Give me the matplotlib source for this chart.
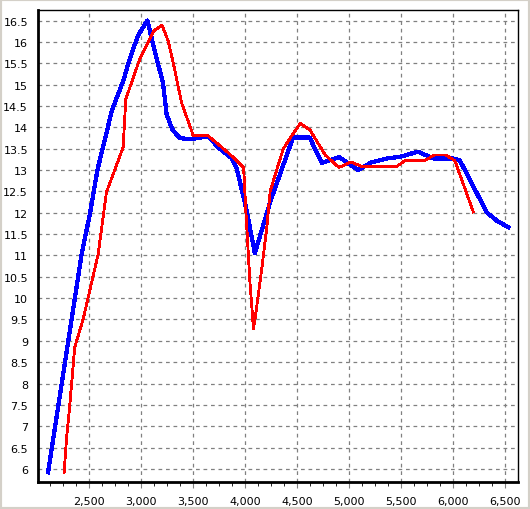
import numpy as np
import matplotlib
matplotlib.use('Agg')
import matplotlib.pyplot as plt
from matplotlib.ticker import MultipleLocator, FuncFormatter
from matplotlib.patches import Rectangle

# blue series (thick line)
blue_x = [2106, 2430, 2510, 2580, 2660, 2720, 2830, 2890, 2970, 3060,
          3150, 3210, 3245, 3300, 3370, 3470, 3640, 3760, 3870, 3920,
          4010, 4093, 4240, 4460, 4620, 4735, 4905, 5085, 5215, 5360,
          5490, 5660, 5810, 6000, 6064, 6190, 6320, 6420, 6530]
blue_y = [5.92, 11.05, 12.0, 13.0, 13.8, 14.4, 15.1, 15.6, 16.15, 16.5,
          15.6, 15.05, 14.3, 13.95, 13.75, 13.72, 13.79, 13.49, 13.28, 13.02,
          12.1, 11.05, 12.25, 13.76, 13.76, 13.17, 13.30, 13.0, 13.18, 13.27,
          13.31, 13.43, 13.27, 13.27, 13.22, 12.63, 12.01, 11.81, 11.66]

# red series (thin line)
red_x = [2260, 2283, 2314, 2362, 2442, 2490, 2587, 2667, 2827, 2853,
         2987, 3122, 3202, 3260, 3308, 3388, 3485, 3500, 3644, 3757,
         3853, 3985, 4005, 4045, 4080, 4100, 4160, 4210, 4240, 4290,
         4365, 4446, 4530, 4622, 4770, 4900, 5020, 5120, 5455, 5535,
         5720, 5820, 5930, 6015, 6192]
red_y = [5.92, 6.7, 7.48, 8.85, 9.5, 10.0, 11.03, 12.48, 13.53, 14.66,
         15.6, 16.26, 16.39, 16.02, 15.52, 14.58, 13.92, 13.80, 13.80, 13.57,
         13.37, 13.06, 12.1, 10.4, 9.28, 9.6, 10.7, 11.7, 12.5, 12.9,
         13.49, 13.80, 14.09, 13.94, 13.35, 13.06, 13.19, 13.08, 13.08, 13.22,
         13.22, 13.35, 13.35, 13.22, 12.02]

fig = plt.figure(figsize=(5.3, 5.1), dpi=100, facecolor='white')
# thin window-style frame around the chart
fig.patches.append(Rectangle((0, 0), 1, 1, transform=fig.transFigure,
                             fill=False, edgecolor='#D4D0C8', linewidth=3))

ax = fig.add_axes([0.0711, 0.0535, 0.9063, 0.9243])
ax.set_xlim(2006, 6622)
ax.set_ylim(5.70, 16.74)

ax.plot(blue_x, blue_y, color='#0000FF', linewidth=2.3, antialiased=False,
        solid_joinstyle='round', zorder=3)
ax.plot(red_x, red_y, color='#FF0000', linewidth=1.3, antialiased=False,
        solid_joinstyle='round', zorder=4)

ax.xaxis.set_major_locator(MultipleLocator(500))
ax.xaxis.set_minor_locator(MultipleLocator(125))
ax.yaxis.set_major_locator(MultipleLocator(0.5))
ax.xaxis.set_major_formatter(FuncFormatter(lambda v, p: f"{int(v):,}"))
ax.yaxis.set_major_formatter(FuncFormatter(lambda v, p: f"{v:g}"))

ax.grid(True, which='major', color='#808080', linestyle=(0, (3, 3)), linewidth=0.9)
ax.tick_params(axis='x', which='major', length=4, color='#808080', pad=6, labelsize=8)
ax.tick_params(axis='x', which='minor', length=3, color='black')
ax.tick_params(axis='y', which='major', length=0, pad=7, labelsize=8)

for side in ['left', 'bottom']:
    ax.spines[side].set_linewidth(2)
for side in ['top', 'right']:
    ax.spines[side].set_linewidth(1)
for s in ax.spines.values():
    s.set_color('black')

plt.savefig('out.png', dpi=100, facecolor='white')
plt.close()
